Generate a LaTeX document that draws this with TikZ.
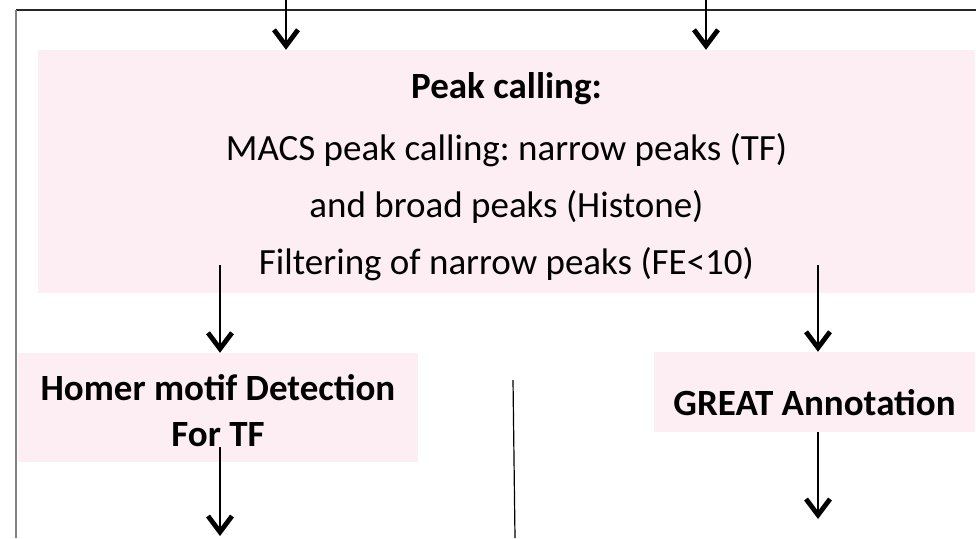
\documentclass[tikz,border=0pt]{standalone}
\usepackage{fontspec}
\setmainfont{Carlito}
\usetikzlibrary{arrows.meta}
\frenchspacing

\definecolor{boxpink}{RGB}{253,238,243}

\tikzset{
  pinkbox/.style={fill=boxpink, inner sep=0pt},
  flow/.style={line width=1.4pt, -{Straight Barb[length=16pt,width=24pt,line width=4.8pt]}},
  bigtext/.style={align=center, font=\fontsize{37}{57}\selectfont},
  boldtext/.style={align=center, font=\fontsize{37}{46}\selectfont\bfseries},
}

\begin{document}
\begin{tikzpicture}[x=1pt,y=-1pt]
\useasboundingbox (0,0) rectangle (976,538);

% frame
\draw [line width=1.2pt, black!85] (976,10) -- (16,10);
\draw [line width=1.6pt, gray] (16,10) -- (16,538);

% boxes
\node [pinkbox, minimum width=937pt, minimum height=243pt] (peak) at (506.5,171.5) {};
\node [pinkbox, minimum width=400pt, minimum height=109pt] (homer) at (218,407.5) {};
\node [pinkbox, minimum width=321pt, minimum height=80pt] (great) at (814.5,392) {};

% texts
\node [bigtext] (peaklabel) at (506.5,177) {\textbf{Peak calling:}\\[5pt]MACS peak calling: narrow peaks (TF)\\and broad peaks (Histone)\\Filtering of narrow peaks (FE<10)};
\node [boldtext] (homerlabel) at (218,410.5) {Homer motif Detection\\For TF};
\node [boldtext] (greatlabel) at (814.5,402.5) {GREAT Annotation};

% free ends
\coordinate (inL) at (286,0);
\coordinate (inR) at (706,0);
\coordinate (outL) at (220,536);
\coordinate (outR) at (818,519);
\coordinate (midtop) at (513,380);
\coordinate (midbot) at (515,538);

% arrows
\draw [flow] (inL) -- (inL |- peak.north);
\draw [flow] (inR) -- (inR |- peak.north);
\draw [flow] ([yshift=28pt]peak.south -| outL) -- (outL |- homer.north);
\draw [flow] ([yshift=28pt]peak.south -| outR) -- (outR |- great.north);
\draw [flow] ([yshift=15pt]homer.south -| outL) -- (outL);
\draw [flow] (great.south -| outR) -- (outR);
\draw [line width=1.2pt] (midtop) -- (midbot);

\end{tikzpicture}
\end{document}
